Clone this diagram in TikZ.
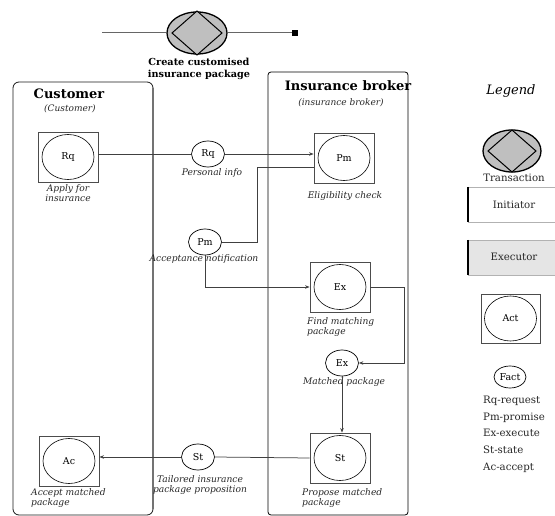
\documentclass[tikz,border=0pt]{standalone}
\usepackage{fontspec}
\setmainfont{DejaVu Serif}
\usetikzlibrary{arrows.meta,shapes.geometric,calc}
\begin{document}
\begin{tikzpicture}[x=1pt,y=-1pt,
  conn/.style={draw=black!75, line width=0.75pt},
  arr/.style={conn, -{Stealth[length=4.5pt,width=3.5pt]}},
  actbox/.style={rectangle, draw=black!70, line width=0.85pt, minimum width=60pt, minimum height=50pt, inner sep=0pt, font=\fontsize{9.5}{11}\selectfont,
    path picture={\draw[black, line width=0.6pt] (path picture bounding box.center) ellipse [x radius=26pt, y radius=22.5pt];}},
  fact/.style={ellipse, draw=black, line width=0.7pt, minimum width=33pt, minimum height=26pt, inner sep=0pt, font=\fontsize{9.5}{11}\selectfont},
  lbl/.style={font=\fontsize{9.1}{10.5}\selectfont\itshape, text=black!85, align=center, inner sep=0pt},
  lbll/.style={lbl, align=left},
  lane/.style={draw=black, line width=0.8pt},
  trans/.style={ellipse, draw=black, fill=black!25, line width=1.3pt, inner sep=0pt},
  legtxt/.style={font=\fontsize{10.2}{12}\selectfont, inner sep=0pt, text=black!85},
  lanetitle/.style={font=\fontsize{13}{15}\selectfont\bfseries, inner sep=0pt},
  lanesub/.style={font=\fontsize{9}{11}\selectfont\itshape, inner sep=0pt, text=black!85}
]
\useasboundingbox (0,0) rectangle (555,516);

% top transaction
\coordinate (tl) at (102,33);
\node[trans, minimum width=60pt, minimum height=42pt] (tx) at (197,33) {};
\draw[black, fill=black!25, line width=1pt] ($(tx)+(-25,0)$) -- ($(tx)+(0,-22)$) -- ($(tx)+(25,0)$) -- ($(tx)+(0,22)$) -- cycle;
\node[fill=black, minimum size=6pt, inner sep=0pt] (sq) at (295,33) {};
\draw[draw=black!60, line width=1pt] (tl) -- (tx.west);
\draw[draw=black!60, line width=1pt] (tx.east) -- (sq.west);
\node[font=\fontsize{9.7}{12}\selectfont\bfseries, align=center, inner sep=0pt] (txl) at (199,69) {Create customised\\insurance package};

% lanes
\draw[lane, rounded corners=6pt, draw=black!90] (13,82) rectangle (153,515);
\draw[draw=black!55, line width=1.2pt] (153,88) -- (153,509);
\draw[lane, rounded corners=3pt] (268,72) rectangle (408,515);
\node[lanetitle] (custt) at (69,94) {Customer};
\node[lanesub] (custs) at (70,109) {(Customer)};
\node[lanetitle] (brokt) at (348,86) {Insurance broker};
\node[lanesub] (broks) at (341,103) {(insurance broker)};

% acts and facts
\node[actbox] (rqact) at (68,157) {Rq};
\node[lbl] at (68,193) {Apply for\\insurance};
\node[fact] (rqfact) at (208,154) {Rq};
\node[lbl] at (212,173) {Personal info};

\node[actbox] (pmact) at (344,158) {Pm};
\node[lbl] at (345,196) {Eligibility check};

\node[fact] (pmfact) at (205,242) {Pm};
\node[lbl] at (204,259) {Acceptance notification};

\node[actbox] (exact) at (340,287) {Ex};
\node[lbll, anchor=north west] at (307,317) {Find matching\\package};

\node[fact] (exfact) at (342,363) {Ex};
\node[lbl] at (344,382) {Matched package};

\node[actbox] (stact) at (340,458) {St};
\node[lbll, anchor=north west] at (302,488) {Propose matched\\package};

\node[fact] (stfact) at (198,457) {St};
\node[lbl] at (200,485) {Tailored insurance\\package proposition};

\node[actbox] (acact) at (69,461) {Ac};
\node[lbll, anchor=north west] at (31,488) {Accept matched\\package};

% connectors
\draw[conn] (rqfact.west -| rqact.east) -- (rqfact.west);
\draw[arr] (rqfact.east) -- (rqfact.east -| pmact.west);
\draw[conn] ([yshift=-9pt]pmact.west) -- ++(-56,0) |- (pmfact.east);
\draw[arr] (pmfact.south) |- (exact.west);
\draw[arr] (exact.east) -- ++(34,0) |- (exfact.east);
\draw[arr] (exfact.south) -- (exfact.south |- stact.north);
\draw[conn] (stact.west) -- (stfact.east);
\draw[arr] (stfact.west) -- (stfact.west -| acact.east);

% legend
\node[font=\fontsize{13}{15}\selectfont\itshape, inner sep=0pt] (leg) at (511,91) {Legend};
\node[trans, minimum width=58pt, minimum height=42pt] (ltx) at (512,151) {};
\draw[black, fill=black!25, line width=1pt] ($(ltx)+(-24,0)$) -- ($(ltx)+(0,-21)$) -- ($(ltx)+(24,0)$) -- ($(ltx)+(0,21)$) -- cycle;
\node[legtxt] (ltxl) at (514,178) {Transaction};

\draw[draw=black!30, line width=0.5pt] (468,187) -- (555,187) (468,222) -- (555,222);
\draw[line width=1.8pt] (468,187) -- (468,222);
\node[legtxt] (linit) at (514,205) {Initiator};

\fill[black!10] (468,240) rectangle (555,275);
\draw[draw=black!30, line width=0.5pt] (468,240) -- (555,240) (468,275) -- (555,275);
\draw[line width=1.8pt] (468,240) -- (468,275);
\node[legtxt] (lexec) at (514,257) {Executor};

\node[actbox, minimum width=59pt, minimum height=49pt] (lact) at (510.5,318.5) {Act};
\node[fact, minimum width=32pt, minimum height=22pt] (lfact) at (510,377) {Fact};

\node[legtxt, anchor=base west] at (483,403) {Rq-request};
\node[legtxt, anchor=base west] at (483,420) {Pm-promise};
\node[legtxt, anchor=base west] at (483,436) {Ex-execute};
\node[legtxt, anchor=base west] at (483,453) {St-state};
\node[legtxt, anchor=base west] at (483,470) {Ac-accept};
\end{tikzpicture}
\end{document}
